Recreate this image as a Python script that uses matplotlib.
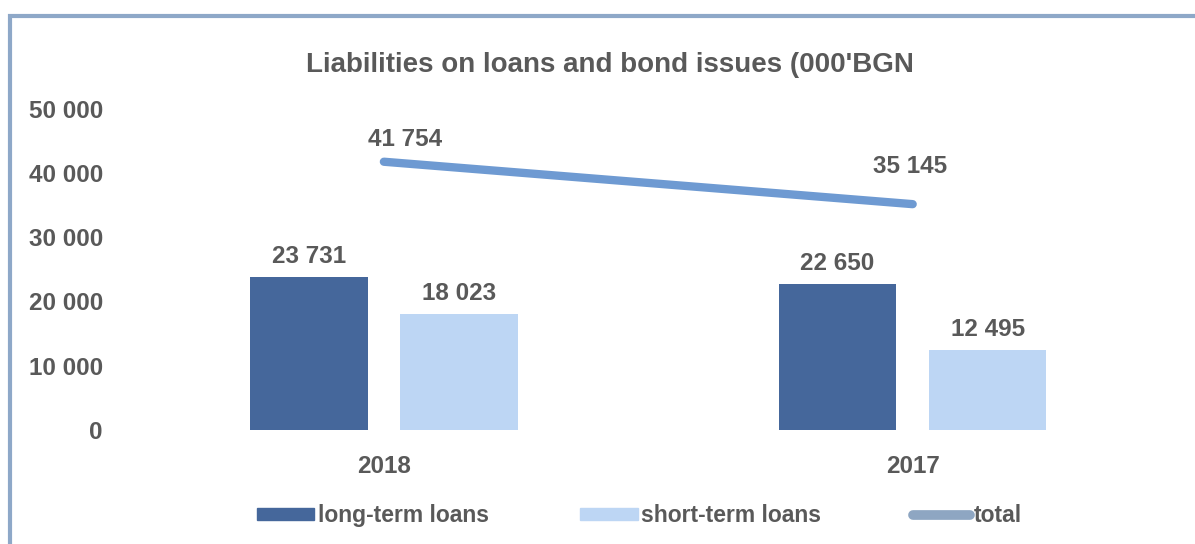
import numpy as np
import matplotlib
matplotlib.use('Agg')
import matplotlib.pyplot as plt
from matplotlib.patches import Rectangle

# Данни (хил. лв.)
years = ['2018', '2017']
long_term = [23731, 22650]
short_term = [18023, 12495]
total = [41754, 35145]
y_ticks = [0, 10000, 20000, 30000, 40000, 50000]

c_long = '#45679B'
c_short = '#BDD6F4'
c_total = '#6E9AD2'
c_text = '#595959'

plt.rcParams['font.family'] = ['Liberation Sans', 'DejaVu Sans']
plt.rcParams['font.weight'] = 'bold'


def fmt(v):
    return f'{v:,}'.replace(',', ' ')


fig = plt.figure(figsize=(11.95, 5.44), dpi=100)
ax = fig.add_axes([0.1, 0.21, 0.885, 0.59])

x = np.arange(len(years))
w = 0.222
off = 0.142
b1 = ax.bar(x - off, long_term, w, color=c_long)
b2 = ax.bar(x + off, short_term, w, color=c_short)
ax.plot(x, total, color=c_total, lw=6, solid_capstyle='round')

for rect, v in zip(list(b1) + list(b2), long_term + short_term):
    ax.text(rect.get_x() + rect.get_width() / 2, v + 1400, fmt(v),
            ha='center', va='bottom', fontsize=17.5, color=c_text, fontweight='bold')
for xi, v, dx, dy in zip(x, total, [0.04, -0.005], [1700, 4000]):
    ax.text(xi + dx, v + dy, fmt(v), ha='center', va='bottom',
            fontsize=17.5, color=c_text, fontweight='bold')

ax.set_xlim(-0.5, 1.5)
ax.set_ylim(0, 50000)
ax.set_yticks(y_ticks)
ax.set_yticklabels([fmt(t) for t in y_ticks])
ax.set_xticks(x)
ax.set_xticklabels(years)
ax.tick_params(length=0, labelsize=17.5, labelcolor=c_text, pad=18)
ax.tick_params(axis='y', pad=12)
for s in ax.spines.values():
    s.set_visible(False)

fig.text(0.51, 0.88, "Liabilities on loans and bond issues (000'BGN",
         ha='center', va='center', fontsize=20, color=c_text, fontweight='bold')

handles = [
    Rectangle((0, 0), 1, 1, color=c_long),
    Rectangle((0, 0), 1, 1, color=c_short),
    plt.Line2D([0], [0], color='#8EA6C2', lw=7, solid_capstyle='round'),
]
fig.legend(handles, ['long-term loans', 'short-term loans', 'total'],
           loc='center', bbox_to_anchor=(0.535, 0.052), ncol=3, frameon=False,
           fontsize=16.5, labelcolor=c_text, handlelength=2.5, handleheight=0.45,
           handletextpad=0.15, columnspacing=4.0)

# рамка
fig.add_artist(Rectangle((0.008, -0.02), 1.1, 0.99, transform=fig.transFigure,
                         fill=False, edgecolor='#8EA8C8', lw=3))

fig.savefig('out.png', dpi=100)
